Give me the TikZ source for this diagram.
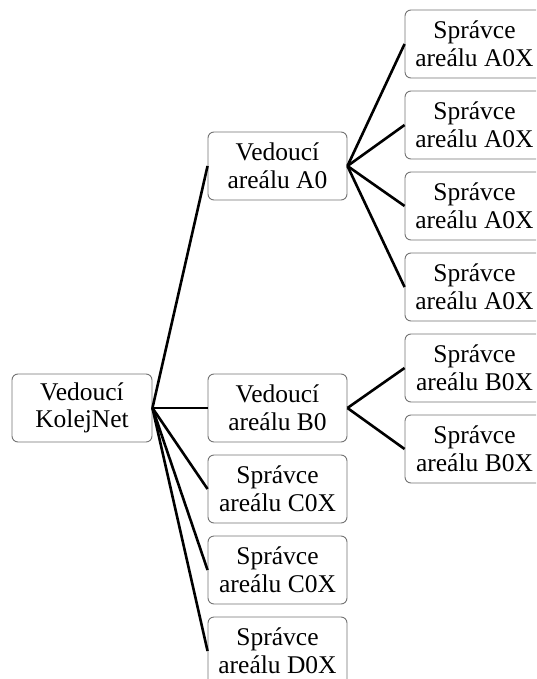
\documentclass[tikz,border=0pt]{standalone}
\usepackage{fontspec}
\setmainfont{Liberation Serif}
\begin{document}
\begin{tikzpicture}[x=1pt,y=-1pt,
  box/.style={draw=black!55,line width=0.9pt,rounded corners=6pt,fill=white,
    minimum height=68pt,align=center,inner sep=0pt,
    font=\fontsize{25.5}{27.5}\selectfont},
  lvla/.style={box,minimum width=140pt},
  lvlb/.style={box,minimum width=139pt},
  lvlc/.style={box,minimum width=139pt},
  conn/.style={line width=2.6pt,black}]
\useasboundingbox (0,0) rectangle (536,679);
\clip (0,0) rectangle (536,679);
\node[lvla] (root) at (82,408) {Vedoucí\\KolejNet};
\node[lvlb] (a0) at (277.5,166) {Vedoucí\\areálu A0};
\node[lvlb] (b0) at (277.5,408) {Vedoucí\\areálu B0};
\node[lvlb] (c1) at (277.5,489) {Správce\\areálu C0X};
\node[lvlb] (c2) at (277.5,570) {Správce\\areálu C0X};
\node[lvlb] (d1) at (277.5,651) {Správce\\areálu D0X};
\node[lvlc] (a1) at (474.5,44) {Správce\\areálu A0X};
\node[lvlc] (a2) at (474.5,125) {Správce\\areálu A0X};
\node[lvlc] (a3) at (474.5,206) {Správce\\areálu A0X};
\node[lvlc] (a4) at (474.5,287) {Správce\\areálu A0X};
\node[lvlc] (b1) at (474.5,368) {Správce\\areálu B0X};
\node[lvlc] (b2) at (474.5,449) {Správce\\areálu B0X};
\foreach \t in {a0,b0,c1,c2,d1} \draw[conn] (root.east) -- (\t.west);
\foreach \t in {a1,a2,a3,a4} \draw[conn] (a0.east) -- (\t.west);
\foreach \t in {b1,b2} \draw[conn] (b0.east) -- (\t.west);
\end{tikzpicture}
\end{document}
